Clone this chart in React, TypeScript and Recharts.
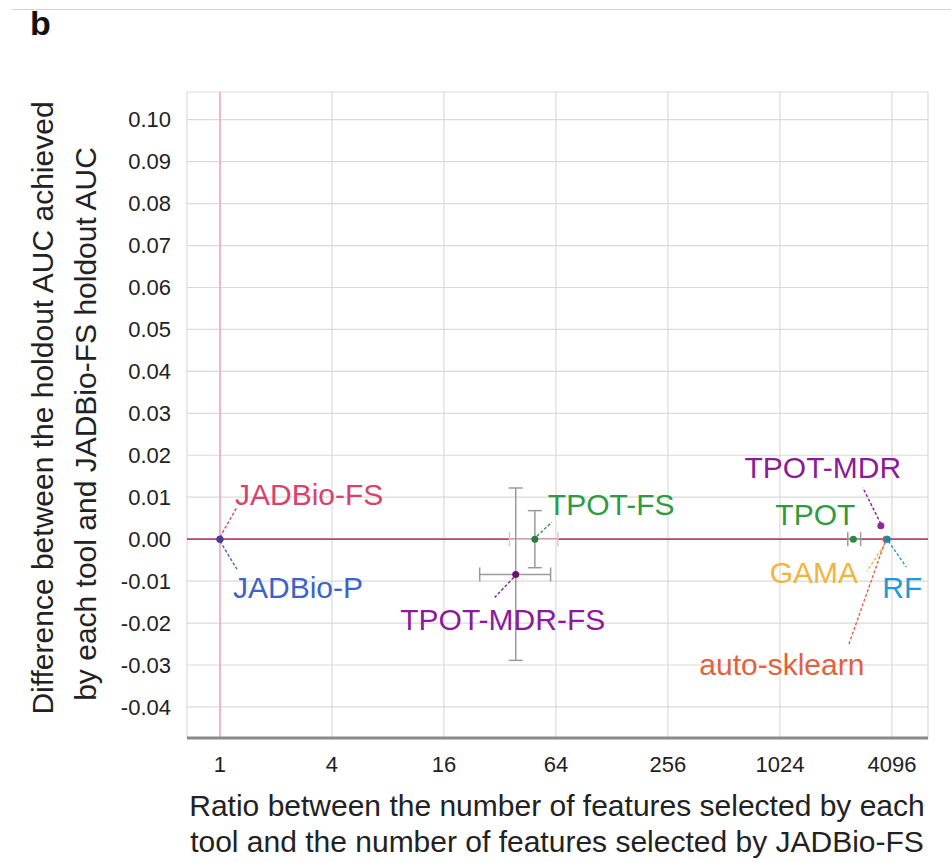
import React from 'react';
import {
  ScatterChart,
  Scatter,
  XAxis,
  YAxis,
  CartesianGrid,
  ReferenceLine,
  ErrorBar,
} from 'recharts';

// tools, in drawing order (RF last so its dot sits on top of GAMA / auto-sklearn)
const tools = ['JADBio-FS', 'JADBio-P', 'TPOT-FS', 'TPOT-MDR-FS', 'TPOT', 'TPOT-MDR', 'GAMA', 'auto-sklearn', 'RF'];
const featureRatio = [1, 1, 49.3, 38.9, 2540, 3570, 3850, 3800, 3870];
const aucDiff = [0, 0, 0, -0.0084, 0, 0.0032, 0, 0, 0];
const ratioLow = [null, null, 36, 24.9, 2370, null, null, null, null];
const ratioHigh = [null, null, 65.6, 59.9, 2780, null, null, null, null];
const aucLow = [null, null, -0.0068, -0.0289, null, null, null, null, null];
const aucHigh = [null, null, 0.0068, 0.0122, null, null, null, null, null];

const xTicks = [1, 4, 16, 64, 256, 1024, 4096];
const yTicks = [-0.04, -0.03, -0.02, -0.01, 0, 0.01, 0.02, 0.03, 0.04, 0.05, 0.06, 0.07, 0.08, 0.09, 0.1];

const FONT = '"Liberation Sans", Arial, Helvetica, sans-serif';

type Mark = {
  color: string;
  dot: string;
  tx: number;
  ty: number;
  anchor: 'start' | 'middle' | 'end';
  lead?: [number, number, number, number];
};

// label placement relative to each point (pixels)
const MARKS: Record<string, Mark> = {
  'JADBio-FS': { color: '#d8436c', dot: '#4e3a92', tx: 15, ty: -45, anchor: 'start', lead: [0, -2, 17, -32] },
  'JADBio-P': { color: '#3d63c8', dot: '#4e3a92', tx: 13, ty: 48, anchor: 'start', lead: [0, 2, 17, 30] },
  'TPOT-FS': { color: '#2f9b40', dot: '#2c7a44', tx: 13, ty: -35, anchor: 'start', lead: [2, -3, 17, -17] },
  'TPOT-MDR-FS': { color: '#8c1b9b', dot: '#6c1072', tx: -13, ty: 45, anchor: 'middle', lead: [-2, 3, -21, 23] },
  TPOT: { color: '#2f9b40', dot: '#2c8a40', tx: -38, ty: -25, anchor: 'middle' },
  'TPOT-MDR': { color: '#8c1b9b', dot: '#8a2a9c', tx: -58, ty: -58, anchor: 'middle', lead: [0, -2, -18, -38] },
  GAMA: { color: '#f2b43e', dot: '#f2b43e', tx: -73, ty: 33, anchor: 'middle', lead: [0, 2, -20, 32] },
  'auto-sklearn': { color: '#e3613c', dot: '#e3613c', tx: -104, ty: 125, anchor: 'middle', lead: [-1, 3, -37, 105] },
  RF: { color: '#1e9bd6', dot: '#1b8aa8', tx: 15, ty: 48, anchor: 'middle', lead: [1, 2, 19, 28] },
};

const rows = tools.map((tool, i) => ({
  tool,
  ratio: featureRatio[i],
  diff: aucDiff[i],
  xErr: ratioLow[i] != null ? [featureRatio[i] - (ratioLow[i] as number), (ratioHigh[i] as number) - featureRatio[i]] : null,
  yErr: aucLow[i] != null ? [aucDiff[i] - (aucLow[i] as number), (aucHigh[i] as number) - aucDiff[i]] : null,
}));

function ToolMark(props: any) {
  const { cx, cy, payload } = props;
  const m = MARKS[payload.tool];
  return (
    <g>
      {m.lead && (
        <line
          x1={cx + m.lead[0]}
          y1={cy + m.lead[1]}
          x2={cx + m.lead[2]}
          y2={cy + m.lead[3]}
          stroke={m.color}
          strokeWidth={1.4}
          strokeDasharray="3 2"
        />
      )}
      <circle cx={cx} cy={cy} r={3.5} fill={m.dot} />
      <text
        x={cx + m.tx}
        y={cy + m.ty}
        textAnchor={m.anchor}
        dominantBaseline="central"
        fill={m.color}
        fontSize={30}
        fontFamily={FONT}
      >
        {payload.tool}
      </text>
    </g>
  );
}

function XTitle() {
  return (
    <text textAnchor="middle" fontSize={30} fontFamily={FONT} fill="#222">
      <tspan x={557} y={816}>Ratio between the number of features selected by each</tspan>
      <tspan x={557} y={852}>tool and the number of features selected by JADBio-FS</tspan>
    </text>
  );
}

function YTitle() {
  return (
    <g fontSize={30} fontFamily={FONT} fill="#222" textAnchor="middle">
      <text transform="translate(53, 408) rotate(-90)">Difference between the holdout AUC achieved</text>
      <text transform="translate(96, 424) rotate(-90)">by each tool and JADBio-FS holdout AUC</text>
    </g>
  );
}

export default function App() {
  return (
    <div style={{ position: 'absolute', left: 0, top: 0, width: 951, height: 862, background: '#fff', fontFamily: FONT }}>
      <div style={{ position: 'absolute', left: 12, right: 0, top: 9, height: 1, background: '#d4d4d4' }} />
      <div style={{ position: 'absolute', left: 30, top: 4, fontSize: 34, fontWeight: 'bold', color: '#111', lineHeight: '38px' }}>b</div>
      <ScatterChart width={951} height={862} margin={{ top: 92, right: 23, bottom: 94, left: 127 }}>
        <CartesianGrid stroke="#dadada" strokeWidth={1.2} />
        <XAxis
          type="number"
          dataKey="ratio"
          scale="log"
          domain={[0.665, 6400]}
          allowDataOverflow
          ticks={xTicks}
          interval={0}
          height={30}
          tickLine={false}
          tickSize={6}
          tickMargin={12}
          axisLine={{ stroke: '#8a8a8a', strokeWidth: 3 }}
          tick={{ fill: '#222', fontSize: 22, fontFamily: FONT }}
          label={{ content: () => <XTitle /> }}
        />
        <YAxis
          type="number"
          dataKey="diff"
          domain={[-0.0474, 0.1066]}
          allowDataOverflow
          ticks={yTicks}
          interval={0}
          width={60}
          tickLine={false}
          axisLine={false}
          tickSize={6}
          tickMargin={10}
          tickFormatter={(v: number) => v.toFixed(2)}
          tick={{ fill: '#222', fontSize: 22, fontFamily: FONT }}
          label={{ content: () => <YTitle /> }}
        />
        <ReferenceLine x={1} stroke="#f0a9bb" strokeWidth={1.5} />
        <ReferenceLine y={0} stroke="#c2426e" strokeWidth={1.8} />
        {rows.map((r) => (
          <Scatter
            key={r.tool}
            name={r.tool}
            data={[r]}
            shape={ToolMark}
            isAnimationActive={false}
          >
            {r.xErr && (
              <ErrorBar
                dataKey="xErr"
                direction="x"
                width={7}
                stroke={r.tool === 'TPOT-FS' ? '#dcc8cc' : '#9a9a9a'}
                strokeWidth={1.5}
                isAnimationActive={false}
              />
            )}
            {r.yErr && (
              <ErrorBar
                dataKey="yErr"
                direction="y"
                width={7}
                stroke="#9a9a9a"
                strokeWidth={1.5}
                isAnimationActive={false}
              />
            )}
          </Scatter>
        ))}
      </ScatterChart>
    </div>
  );
}
